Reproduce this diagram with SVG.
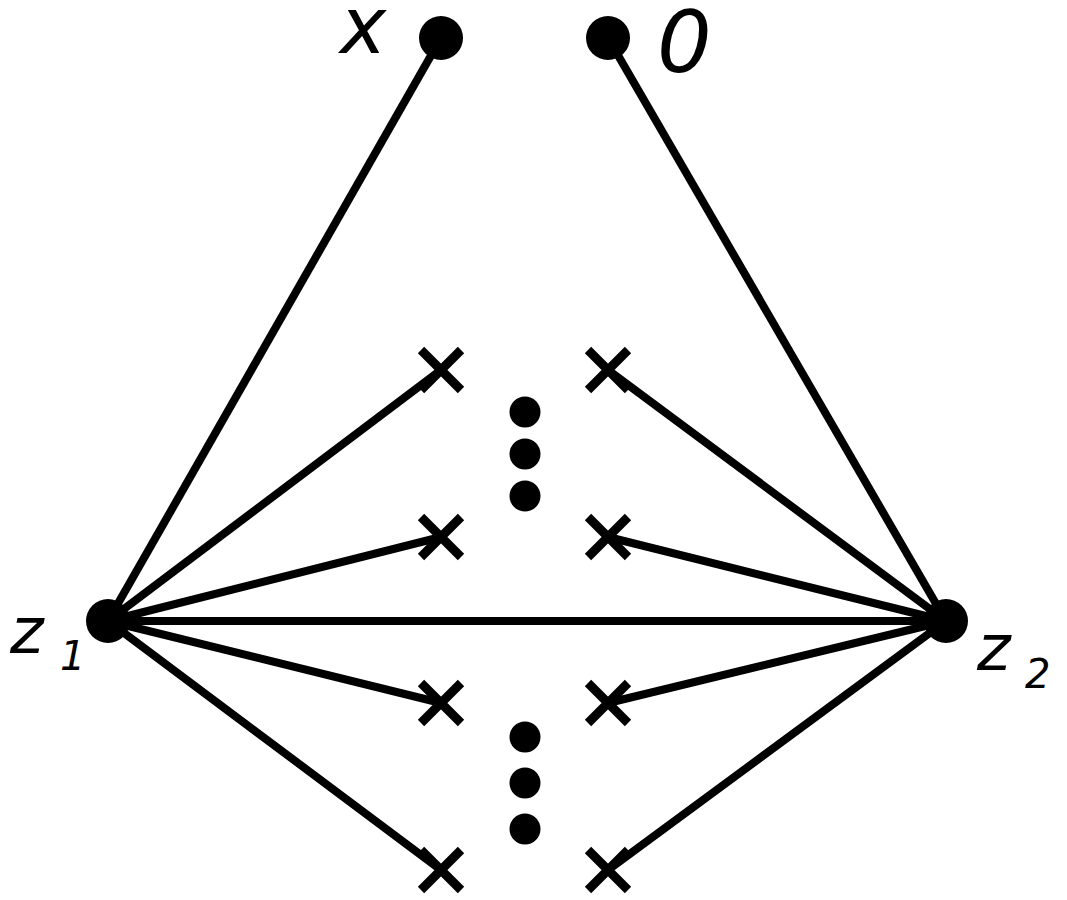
<svg xmlns="http://www.w3.org/2000/svg" width="1067" height="900" viewBox="0 0 1067 900">
<style>
.e{stroke:#000;stroke-width:8;stroke-linecap:butt;fill:none}
.c{stroke:#000;stroke-width:9;fill:none}
.n{fill:#000}
.t{font-family:"DejaVu Sans",sans-serif;font-style:oblique;fill:#000}
</style>
<rect width="1067" height="900" fill="#fff"/>
<g id="connectors">
<line class="e" x1="108" y1="621" x2="441" y2="38"/>
<line class="e" x1="946" y1="621" x2="608" y2="38"/>
<line class="e" x1="108" y1="621" x2="946" y2="621"/>
<line class="e" x1="108" y1="621" x2="441" y2="370"/>
<line class="e" x1="108" y1="621" x2="441" y2="537"/>
<line class="e" x1="108" y1="621" x2="441" y2="703"/>
<line class="e" x1="108" y1="621" x2="441" y2="870"/>
<line class="e" x1="946" y1="621" x2="608" y2="370"/>
<line class="e" x1="946" y1="621" x2="608" y2="537"/>
<line class="e" x1="946" y1="621" x2="608" y2="703"/>
<line class="e" x1="946" y1="621" x2="608" y2="870"/>
</g>
<g id="node-x"><circle class="n" cx="441" cy="38" r="22"/><text class="t" x="340" y="53" font-size="78">x</text></g>
<g id="node-0"><circle class="n" cx="608" cy="38" r="22"/><text class="t" x="657" y="72" font-size="86">0</text></g>
<g id="node-z1"><circle class="n" cx="108" cy="621" r="22"/><text class="t" x="10" y="653" font-size="64">z</text><text class="t" x="60" y="670" font-size="40">1</text></g>
<g id="node-z2"><circle class="n" cx="946" cy="621" r="22"/><text class="t" x="977" y="670" font-size="64">z</text><text class="t" x="1025" y="688" font-size="40">2</text></g>
<g id="cross-l1"><path class="c" d="M421 350L461 390M461 350L421 390"/></g>
<g id="cross-l2"><path class="c" d="M421 517L461 557M461 517L421 557"/></g>
<g id="cross-l3"><path class="c" d="M421 683L461 723M461 683L421 723"/></g>
<g id="cross-l4"><path class="c" d="M421 850L461 890M461 850L421 890"/></g>
<g id="cross-r1"><path class="c" d="M588 350L628 390M628 350L588 390"/></g>
<g id="cross-r2"><path class="c" d="M588 517L628 557M628 517L588 557"/></g>
<g id="cross-r3"><path class="c" d="M588 683L628 723M628 683L588 723"/></g>
<g id="cross-r4"><path class="c" d="M588 850L628 890M628 850L588 890"/></g>
<g id="dots-upper"><circle class="n" cx="525" cy="412" r="15.5"/><circle class="n" cx="525" cy="454" r="15.5"/><circle class="n" cx="525" cy="496" r="15.5"/></g>
<g id="dots-lower"><circle class="n" cx="525" cy="737" r="15.5"/><circle class="n" cx="525" cy="783" r="15.5"/><circle class="n" cx="525" cy="829" r="15.5"/></g>
</svg>
